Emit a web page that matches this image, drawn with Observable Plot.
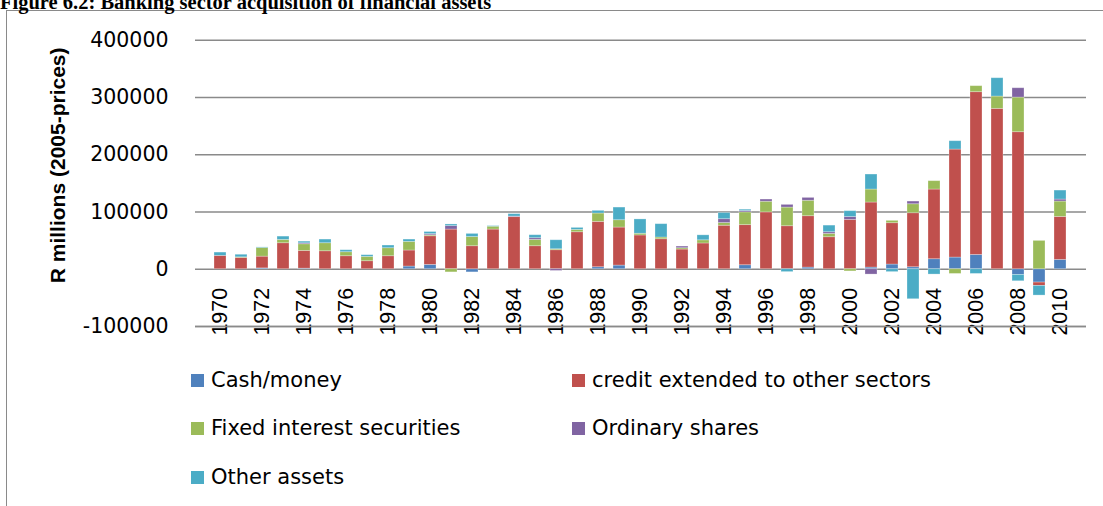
<!DOCTYPE html>
<html>
<head>
<meta charset="utf-8">
<script src="https://cdn.jsdelivr.net/npm/d3@7"></script>
<script src="https://cdn.jsdelivr.net/npm/@observablehq/plot@0.6"></script>
<style>
  html, body { margin: 0; padding: 0; background: #fff; }
  body { width: 1103px; height: 506px; overflow: hidden; position: relative; }
  #frame { position: absolute; left: 6px; top: 10px; width: 1200px; height: 600px; border: 1.5px solid #8a8a8a; }
  #title { position: absolute; left: 0px; top: -10px; font: bold 20.5px "Liberation Serif", serif; line-height: 24px; white-space: nowrap; color: #000; }
  #chart { position: absolute; left: 0; top: 0; }
  .leg { position: absolute; display: flex; align-items: center; font: 21px "DejaVu Sans", sans-serif; color: #000; white-space: nowrap; }
  .leg span.sw { display: inline-block; width: 13px; height: 13px; margin-right: 7px; }
</style>
</head>
<body>
<div id="frame"></div>
<div id="title">Figure 6.2: Banking sector acquisition of financial assets</div>
<div id="chart"></div>
<div id="legend"></div>
<script>
const years = d3.range(1970, 2011);
const seriesNames = ["Cash/money", "credit extended to other sectors", "Fixed interest securities", "Ordinary shares", "Other assets"];
const seriesColors = ["#4F81BD", "#C0504D", "#9BBB59", "#8064A2", "#4BACC6"];

const cash = [0, 0, 1500, 0, 1000, 0, 0, 0, 0, 4700,
  7600, 0, -5500, 0, 0, 0, 0, 0, 3500, 6400,
  0, 0, 0, 0, 0, 7000, 0, 0, 2900, 0,
  0, 2900, 8200, 3500, 17500, 20400, 25000, 0, -9900, -23300,
  16300];
const credit = [23300, 19800, 20500, 45400, 31000, 31400, 22700, 14000, 22700, 28000,
  50000, 69300, 40200, 69300, 91000, 40200, 33200, 64600, 79200, 66400,
  59000, 52400, 34400, 45000, 76000, 70000, 99300, 75100, 89700, 55900,
  86200, 113600, 72200, 94300, 121700, 188600, 284200, 280100, 239300, -5800,
  75100];
const fixed = [0, 1000, 15100, 5800, 11600, 14000, 7000, 7600, 14000, 15100,
  1700, -5500, 16000, 5000, 0, 11100, 1700, 4100, 14600, 12800,
  3000, 3000, 2300, 5500, 4700, 22400, 18600, 32600, 27000, 5800,
  -3800, 22700, 4100, 15700, 14600, -8200, 10500, 21500, 60500, 49500,
  26800];
const ordinary = [0, 0, 0, 0, 1700, 0, 0, 0, 0, 0,
  2000, 6000, 0, 0, 1000, 2900, -3000, 0, 0, 0,
  0, 0, 2900, 0, 6700, 2300, 3800, 4700, 5000, 2900,
  5000, -9300, 0, 4700, 0, 0, 0, 0, 16300, 0,
  3500];
const other = [5800, 4500, 1000, 5800, 2900, 6400, 3500, 2900, 4700, 4000,
  3700, 2900, 5500, 1000, 4200, 5200, 15700, 3500, 4700, 22100,
  25000, 23300, 0, 8700, 10800, 2300, 0, -5000, 0, 11600,
  10200, 26200, -5000, -52400, -9300, 14600, -8200, 32000, -11100, -16900,
  15700];

const yTicks = [-100000, 0, 100000, 200000, 300000, 400000];
const yearLabels = years.filter(y => y % 2 === 0);
const yTitle = "R millions (2005-prices)";

const seriesValues = [cash, credit, fixed, ordinary, other];
const data = seriesNames.flatMap((name, s) =>
  years.map((year, i) => ({year, series: name, value: seriesValues[s][i]})));

const chart = Plot.plot({
  width: 1103,
  height: 345,
  marginLeft: 195,
  marginRight: 17,
  marginTop: 39.7,
  marginBottom: 19,
  style: {background: "transparent", overflow: "visible"},
  x: {domain: years, paddingInner: 0.42, paddingOuter: 0.21, axis: null},
  y: {domain: [-100000, 400000], axis: null},
  color: {domain: seriesNames, range: seriesColors},
  marks: [
    Plot.ruleY(yTicks, {stroke: "#8a8a8a", strokeWidth: 1.6}),
    Plot.barY(data, {x: "year", y: "value", fill: "series", stroke: "#ffffff", strokeOpacity: 0.35, strokeWidth: 0.8}),
    Plot.text(yearLabels, {x: d => d, y: 0, text: d => String(d), rotate: -90, textAnchor: "end", dy: 18.5,
      fontSize: 21.5, fontFamily: "Liberation Sans, Arial, sans-serif", fill: "#000"}),
    Plot.ruleY([-100000], {stroke: "#8a8a8a", strokeWidth: 1.6}),
    Plot.axisY({ticks: yTicks, tickSize: 0, tickPadding: 27, tickFormat: d => String(d), label: null,
      fontSize: 20.5, fontFamily: "DejaVu Sans, sans-serif", fill: "#000"}),
    Plot.text([yTitle], {frameAnchor: "left", dx: -137, dy: -18, rotate: -90, text: d => d, textAnchor: "middle",
      fontSize: 21, fontWeight: "bold", fontFamily: "Liberation Sans, Arial, sans-serif", fill: "#000"})
  ]
});
document.getElementById("chart").appendChild(chart);

// Legend (HTML, below the chart)
const legendPos = [
  {left: 191, top: 380}, {left: 572, top: 380},
  {left: 191, top: 428}, {left: 572, top: 428},
  {left: 191, top: 477}
];
const legend = document.getElementById("legend");
seriesNames.forEach((name, i) => {
  const el = document.createElement("div");
  el.className = "leg";
  el.style.left = legendPos[i].left + "px";
  el.style.top = (legendPos[i].top - 13) + "px";
  el.style.height = "26px";
  const sw = document.createElement("span");
  sw.className = "sw";
  sw.style.background = seriesColors[i];
  el.appendChild(sw);
  el.appendChild(document.createTextNode(name));
  legend.appendChild(el);
});
</script>
</body>
</html>
